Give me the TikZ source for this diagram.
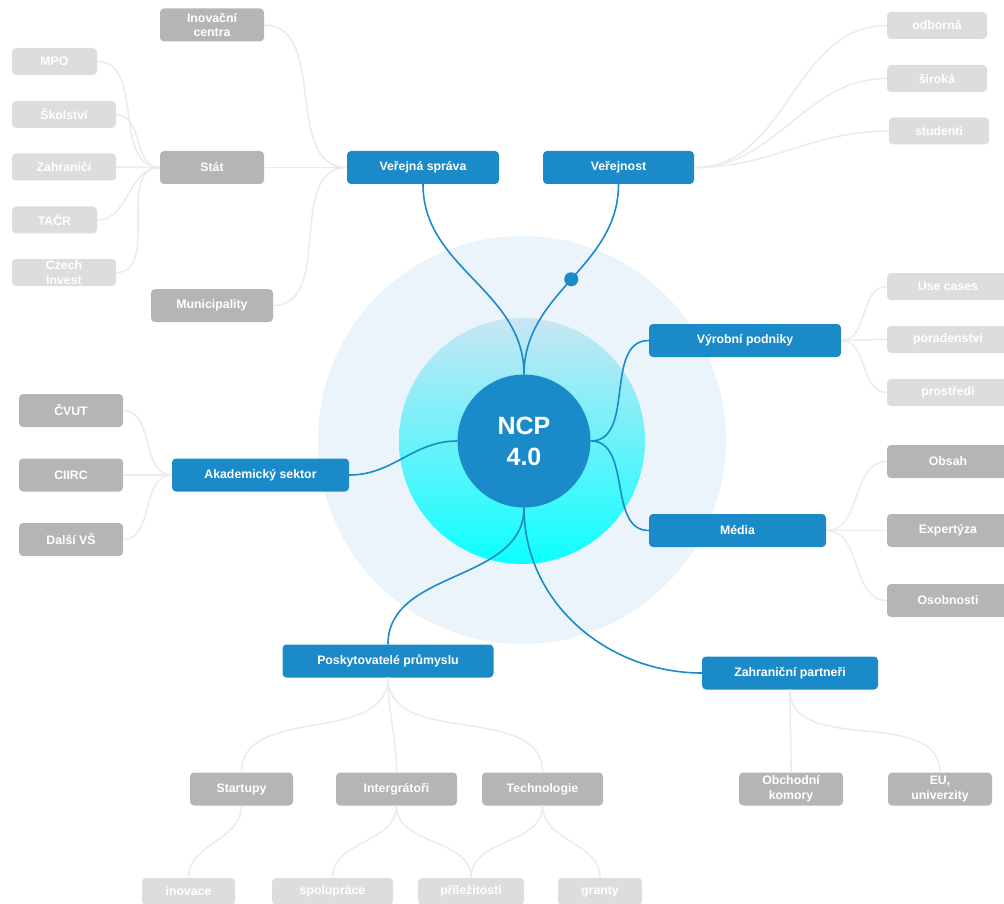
\documentclass[tikz,border=0pt]{standalone}
\usepackage{fontspec}
\setmainfont{Liberation Sans}
\usepackage{tikz}

\definecolor{ncpblue}{RGB}{27,138,200}
\definecolor{halo}{RGB}{235,244,251}
\definecolor{ringtop}{RGB}{202,229,244}
\definecolor{ringbot}{RGB}{12,255,255}
\definecolor{subgray}{RGB}{181,181,181}
\definecolor{leafgray}{RGB}{221,221,221}
\definecolor{twiggray}{RGB}{236,236,236}

\tikzset{
  box/.style={rounded corners=4pt, inner sep=0pt, align=center, text=white,
    font=\fontsize{12.3}{14.5}\selectfont\bfseries, minimum height=33pt},
  topic/.style={box, fill=ncpblue, minimum width=#1},
  sub/.style={box, fill=subgray, minimum width=#1},
  leaf/.style={box, fill=leafgray, minimum width=#1, minimum height=27pt},
  link/.style={ncpblue, line width=1.6pt},
  twig/.style={twiggray, line width=1.6pt},
}

\begin{document}
\begin{tikzpicture}[x=1pt,y=1pt]
    \useasboundingbox (0,0) rectangle (1004,-904);
    %% rings round the hub
    \fill[halo] (522,-440) circle (204);
    \shade[top color=ringtop, bottom color=ringbot] (522,-441) circle (123);
    \node[circle, fill=ncpblue, minimum size=133pt, inner sep=0pt, text=white, align=center,
      font=\fontsize{25}{31}\selectfont\bfseries] (ncp) at (524,-441) {NCP\\4.0};

    %% main topics
    \node[topic=152] (vs) at (423,-167.5) {Veřejná správa};
    \node[topic=151] (vn) at (618.5,-167.5) {Veřejnost};
    \node[topic=192] (vp) at (745,-340.5) {Výrobní podniky};
    \node[topic=177] (med) at (737.5,-530.5) {Média};
    \node[topic=176] (zp) at (790,-673) {Zahraniční partneři};
    \node[topic=211] (pp) at (388,-661) {Poskytovatelé průmyslu};
    \node[topic=177] (ak) at (260.5,-475) {Akademický sektor};

    %% second level
    \node[sub=104] (inov) at (212,-25) {Inovační\\centra};
    \node[sub=104] (stat) at (212,-167.5) {Stát};
    \node[sub=122] (muni) at (212,-305.5) {Municipality};
    \node[sub=104] (cvut) at (71,-410.5) {ČVUT};
    \node[sub=104] (ciirc) at (71,-475) {CIIRC};
    \node[sub=104] (dvs) at (71,-539.5) {Další VŠ};
    \node[sub=122] (obs) at (948,-461.5) {Obsah};
    \node[sub=122] (expt) at (948,-530.5) {Expertýza};
    \node[sub=122] (oso) at (948,-600.5) {Osobnosti};
    \node[sub=103] (start) at (241.5,-789) {Startupy};
    \node[sub=121] (integ) at (396.5,-789) {Intergrátoři};
    \node[sub=121] (tech) at (542.5,-789) {Technologie};
    \node[sub=104] (obk) at (791,-789) {Obchodní\\komory};
    \node[sub=104] (eu) at (940,-789) {EU,\\univerzity};

    %% leaves
    \node[leaf=85] (mpo) at (54.5,-61.5) {MPO};
    \node[leaf=104] (skol) at (64,-114.5) {Školství};
    \node[leaf=104] (zahr) at (64,-167) {Zahraničí};
    \node[leaf=85] (tacr) at (54.5,-220) {TAČR};
    \node[leaf=104] (ci) at (64,-272.5) {Czech\\Invest};
    \node[leaf=100] (odb) at (937,-25.5) {odborná};
    \node[leaf=100] (sir) at (937,-78.5) {široká};
    \node[leaf=100] (stud) at (939,-131) {studenti};
    \node[leaf=122] (use) at (948,-286.5) {Use cases};
    \node[leaf=122] (por) at (948,-339.5) {poradenství};
    \node[leaf=122] (pros) at (948,-392.5) {prostředí};
    \node[leaf=93] (inc) at (188.5,-891.5) {inovace};
    \node[leaf=121] (spol) at (332.5,-891.5) {spolupráce};
    \node[leaf=106] (pril) at (471,-891.5) {příležitosti};
    \node[leaf=84] (gr) at (600,-891.5) {granty};

    %% grey branches
    \foreach \T in {inov,stat,muni}
    {
    \draw[twig] (vs.west) to[out=180,in=0] (\T.east);
    }
    \foreach \T in {mpo,skol,zahr,tacr,ci}
    {
    \draw[twig] (stat.west) to[out=180,in=0] (\T.east);
    }
    \foreach \T in {cvut,ciirc,dvs}
    {
    \draw[twig] (ak.west) to[out=180,in=0] (\T.east);
    }
    \foreach \T in {odb,sir,stud}
    {
    \draw[twig] (vn.east) to[out=0,in=180] (\T.west);
    }
    \foreach \T in {use,por,pros}
    {
    \draw[twig] (vp.east) to[out=0,in=180] (\T.west);
    }
    \foreach \T in {obs,expt,oso}
    {
    \draw[twig] (med.east) to[out=0,in=180] (\T.west);
    }
    \foreach \T in {start,integ,tech}
    {
    \draw[twig] (pp.south) to[out=-90,in=90] (\T.north);
    }
    \foreach \A/\B in {start/inc,integ/spol,integ/pril,tech/pril,tech/gr,zp/obk,zp/eu}
    {
    \draw[twig] (\A.south) to[out=-90,in=90] (\B.north);
    }

    %% blue links to the hub
    \draw[link] (vs.south) to[out=-90,in=90] (ncp.north);
    \draw[link] (vn.south) to[out=-90,in=90] coordinate[pos=0.5] (vdot) (ncp.north);
    \fill[ncpblue] (vdot) circle (7);
    \draw[link] (ncp.east) to[out=0,in=180] (vp.west);
    \draw[link] (ncp.east) to[out=0,in=180] (med.west);
    \draw[link] (ncp.west) to[out=180,in=0] (ak.east);
    \draw[link] (ncp.south) to[out=-90,in=90] (pp.north);
    \draw[link] (ncp.south) to[out=-90,in=180] (zp.west);
\end{tikzpicture}
\end{document}
